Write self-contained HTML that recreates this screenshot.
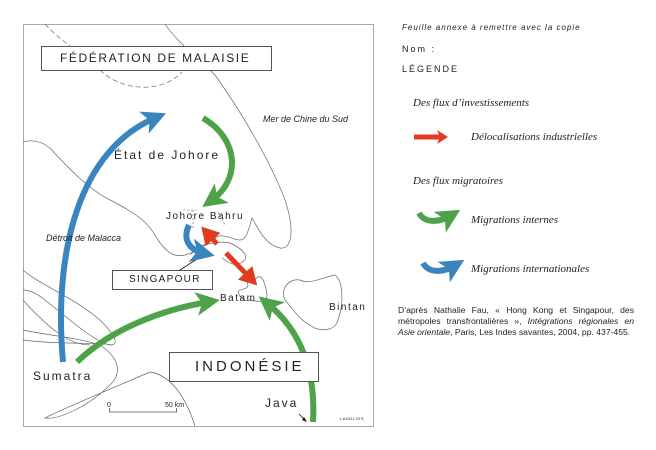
<!DOCTYPE html>
<html><head><meta charset="utf-8"><style>
html,body{margin:0;padding:0;background:#fff;}
body{width:656px;height:450px;overflow:hidden;position:relative;font-family:"Liberation Sans",sans-serif;}
.t{position:absolute;white-space:nowrap;color:#222;}
.ser{font-family:"Liberation Serif",serif;font-style:italic;font-size:11px;}
</style></head><body>
<svg width="656" height="450" style="position:absolute;left:0;top:0" xmlns="http://www.w3.org/2000/svg">
<defs>
<marker id="hg" markerWidth="4" markerHeight="4" refX="2" refY="2" orient="auto" markerUnits="strokeWidth"><path d="M0,0 L4,2 L0,4 L1,2z" fill="#4ea24a"/></marker>
<marker id="hb" markerWidth="4" markerHeight="4" refX="2" refY="2" orient="auto" markerUnits="strokeWidth"><path d="M0,0 L4,2 L0,4 L1,2z" fill="#3a85c0"/></marker>
<marker id="hr" markerWidth="3.5" markerHeight="4" refX="2" refY="2" orient="auto" markerUnits="strokeWidth"><path d="M0,0 L3.5,2 L0,4z" fill="#e23a1e"/></marker>
<marker id="hr2" markerWidth="3.5" markerHeight="4" refX="1.5" refY="2" orient="auto-start-reverse" markerUnits="strokeWidth"><path d="M0,0 L3.5,2 L0,4z" fill="#e23a1e"/></marker>
</defs>
<rect x="23.5" y="24.5" width="350" height="402" fill="#fff" stroke="#aaa" stroke-width="1"/>
<g fill="none" stroke="#666" stroke-width="0.7">
<path d="M45,24 C55,35 65,42 70,46" stroke-dasharray="5,3"/>
<path d="M100,70 C120,90 160,95 182,72" stroke-dasharray="5,3"/>
<path d="M165,24 C175,40 200,60 215,75 C240,110 270,160 285,200 C295,230 292,250 280,248 C265,245 258,228 252,218 C248,232 246,240 240,240 C232,240 222,232 215,238 C205,242 200,250 185,255 C172,258 165,250 158,240 C150,225 140,215 110,200 C90,190 70,170 50,148 C40,140 30,140 23,142"/>
<path d="M190,255 C200,245 215,240 230,243 C245,250 250,258 242,262 C235,268 228,262 222,258"/>
<path d="M23,270 C40,285 70,295 100,320 C115,335 120,345 110,345 C95,342 70,320 45,300 C35,292 28,290 23,290"/>
<path d="M23,300 C50,330 70,345 90,345"/>
<path d="M23,330 C40,334 80,338 100,345 C115,355 125,370 110,385 C90,405 60,420 45,418 C60,410 120,385 150,372 C170,375 185,395 195,426"/>
<path d="M23,340 C60,345 100,342 112,345"/>
<path d="M238,292 C240,288 248,290 248,285 C245,280 250,276 255,280 C258,275 262,275 265,285 C268,295 268,300 262,302 C258,300 254,302 250,300 C245,302 240,298 238,292"/>
<path d="M285,300 C280,290 288,278 300,280 C310,285 320,278 335,275 C342,280 345,300 338,320 C335,332 318,332 310,325 C300,320 295,312 285,300"/>
</g>
<path d="M183,210 L198,210" stroke="#666" stroke-width="0.6" stroke-dasharray="2,2" fill="none"/>
<path d="M193,210 L193,230 M218,212 L225,225" stroke="#666" stroke-width="0.6" stroke-dasharray="2,2" fill="none"/>
<line x1="180" y1="270" x2="208" y2="252" stroke="#111" stroke-width="0.8"/>
<line x1="299" y1="414" x2="306" y2="421" stroke="#111" stroke-width="0.8"/>
<path d="M304,417 L307,422 L302,420z" fill="#111"/>
<path d="M63,362 C53,250 80,150 155,118" stroke="#3a85c0" stroke-width="6" fill="none" marker-end="url(#hb)"/>
<path d="M203,118 C240,140 240,180 212,200" stroke="#4ea24a" stroke-width="6" fill="none" marker-end="url(#hg)"/>
<path d="M77,362 C110,330 160,310 208,302" stroke="#4ea24a" stroke-width="6" fill="none" marker-end="url(#hg)"/>
<path d="M313,422 C316,370 300,330 268,304" stroke="#4ea24a" stroke-width="6" fill="none" marker-end="url(#hg)"/>
<path d="M189,225 C182,240 190,250 203,253" stroke="#3a85c0" stroke-width="6" fill="none" marker-end="url(#hb)"/>
<path d="M208,234 L217,244" stroke="#e23a1e" stroke-width="5" marker-start="url(#hr2)"/>
<path d="M226,253 L252,280" stroke="#e23a1e" stroke-width="5" marker-end="url(#hr)"/>
<line x1="109" y1="412" x2="177" y2="412" stroke="#555" stroke-width="0.8"/>
<line x1="109.5" y1="408" x2="109.5" y2="412" stroke="#555" stroke-width="0.8"/>
<line x1="176.5" y1="408" x2="176.5" y2="412" stroke="#555" stroke-width="0.8"/>
<rect x="41.5" y="46.5" width="230" height="24" fill="#fff" stroke="#555"/>
<rect x="169.5" y="352.5" width="149" height="29" fill="#fff" stroke="#555"/>
<rect x="112.5" y="270.5" width="100" height="19" fill="#fff" stroke="#555"/>
<path d="M414,137 L440,137" stroke="#e23a1e" stroke-width="5"/>
<path d="M437,130 L448,137 L437,144 L440,137z" fill="#e23a1e"/>
<path d="M419,213 C425,224 440,222 450,216" stroke="#4ea24a" stroke-width="6" fill="none" marker-end="url(#hg)"/>
<path d="M423,263 C429,274 444,272 454,266" stroke="#3a85c0" stroke-width="6" fill="none" marker-end="url(#hb)"/>
</svg>
<div class="t" style="left:60px;top:51px;font-size:12px;letter-spacing:1.6px">FÉDÉRATION DE MALAISIE</div>
<div class="t" style="left:195px;top:358px;font-size:15px;letter-spacing:3px">INDONÉSIE</div>
<div class="t" style="left:129px;top:274px;font-size:10px;letter-spacing:1.3px">SINGAPOUR</div>
<div class="t" style="left:114px;top:148px;font-size:12px;letter-spacing:2px">État de Johore</div>
<div class="t" style="left:263px;top:114px;font-size:9px;font-style:italic">Mer de Chine du Sud</div>
<div class="t" style="left:46px;top:233px;font-size:9px;font-style:italic">Détroit de Malacca</div>
<div class="t" style="left:166px;top:211px;font-size:10px;letter-spacing:1.5px">Johore Bahru</div>
<div class="t" style="left:220px;top:293px;font-size:10px;letter-spacing:1.5px">Batam</div>
<div class="t" style="left:329px;top:302px;font-size:10px;letter-spacing:1.5px">Bintan</div>
<div class="t" style="left:33px;top:369px;font-size:12px;letter-spacing:2px">Sumatra</div>
<div class="t" style="left:265px;top:396px;font-size:12px;letter-spacing:2px">Java</div>
<div class="t" style="left:107px;top:402px;font-size:7px">0</div>
<div class="t" style="left:165px;top:402px;font-size:7px">50 km</div>
<div class="t" style="left:340px;top:416px;font-size:4px;letter-spacing:0.5px">LANGLOIS</div>
<div class="t" style="left:402px;top:23px;font-size:8px;font-style:italic;letter-spacing:1px">Feuille annexe à remettre avec la copie</div>
<div class="t" style="left:402px;top:44px;font-size:9px;letter-spacing:2px">Nom :</div>
<div class="t" style="left:402px;top:64px;font-size:9px;letter-spacing:2px">LÉGENDE</div>
<div class="t ser" style="left:413px;top:97px">Des flux d’investissements</div>
<div class="t ser" style="left:471px;top:131px">Délocalisations industrielles</div>
<div class="t ser" style="left:413px;top:175px">Des flux migratoires</div>
<div class="t ser" style="left:471px;top:214px">Migrations internes</div>
<div class="t ser" style="left:471px;top:263px">Migrations internationales</div>
<div style="position:absolute;left:398px;top:305px;width:236px;font-size:8.6px;line-height:11px;text-align:justify;color:#222;">D’après Nathalie Fau, « Hong Kong et Singapour, des métropoles transfrontalières », <i>Intégrations régionales en Asie orientale</i>, Paris, Les Indes savantes, 2004, pp. 437-455.</div>
</body></html>
